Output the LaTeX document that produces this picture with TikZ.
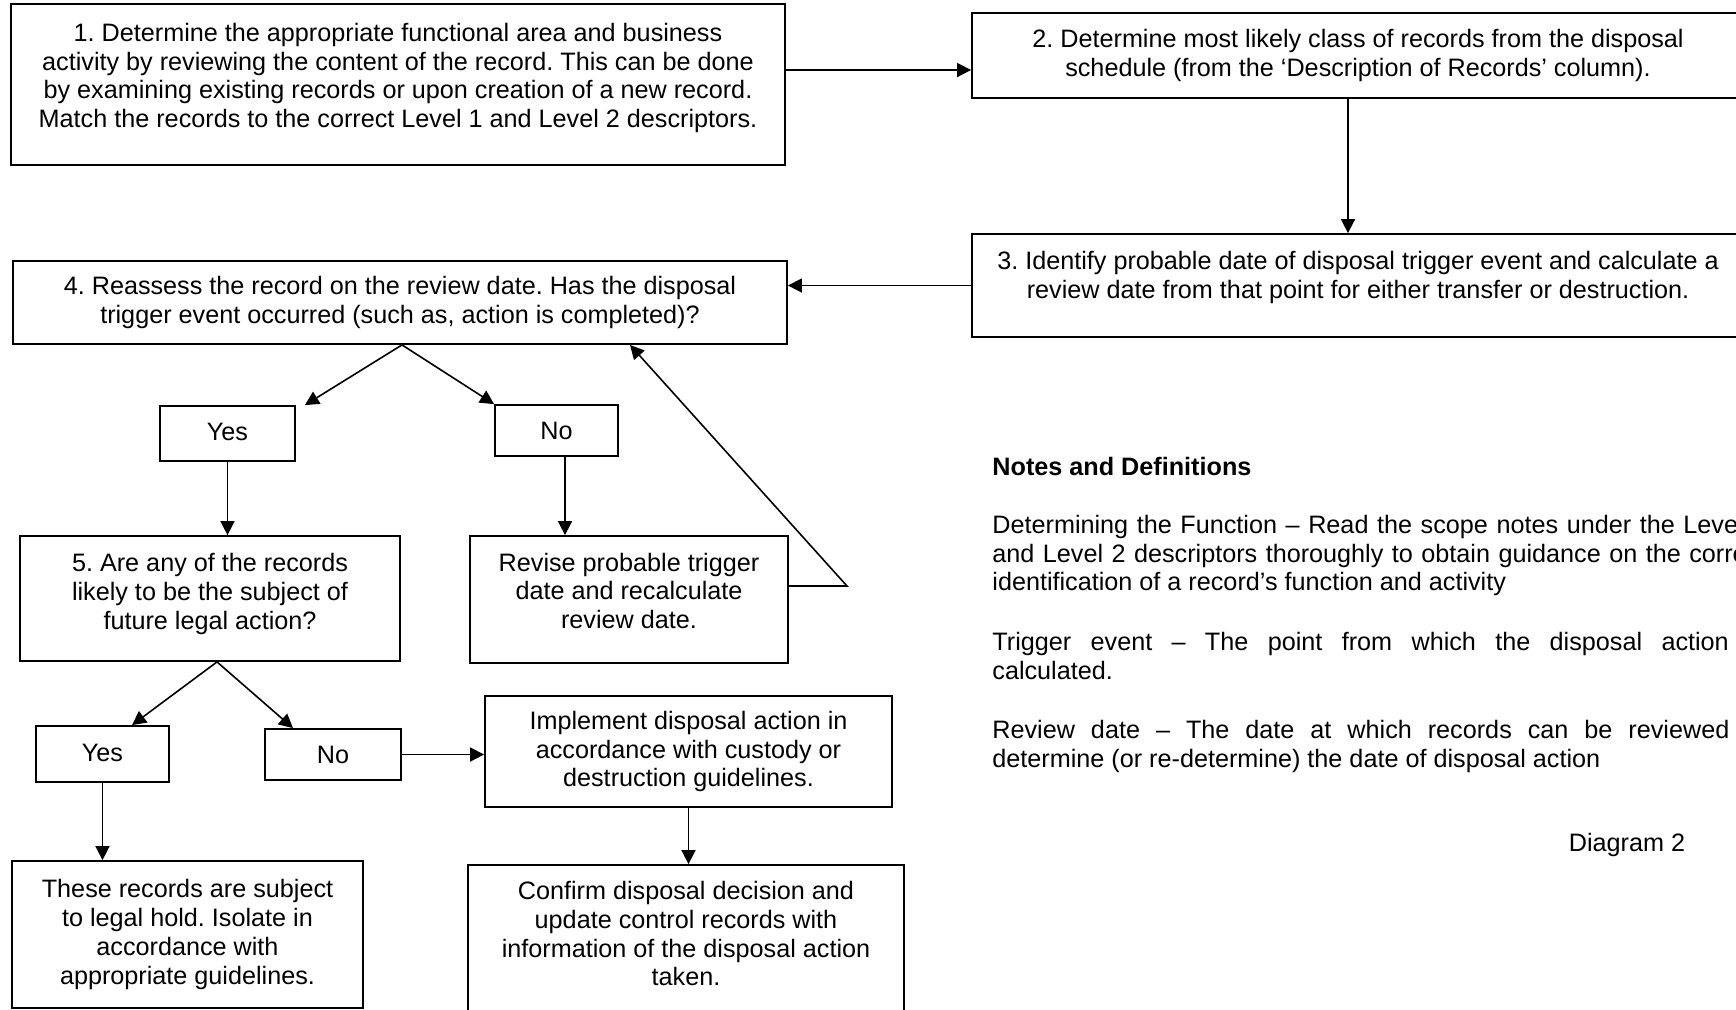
\documentclass[tikz,border=0pt]{standalone}
\usepackage{fontspec}
\setmainfont{Liberation Sans}
\usetikzlibrary{arrows.meta,positioning,calc}
\setlength{\parindent}{0pt}
\frenchspacing

\begin{document}
\begin{tikzpicture}[x=0.5pt,y=-0.5pt,
  font=\fontsize{12.6}{14.35}\selectfont,
  box/.style={draw,line width=0.9pt,inner sep=0pt},
  txt/.style={align=center,inner sep=0pt},
  arr/.style={line width=0.8pt,-{Triangle[length=7pt,width=7pt]}}]
  \useasboundingbox (0,0) rectangle (1736,1009);
  \clip (0,0) rectangle (1736,1009);
  \fill[white] (0,0) rectangle (1736,1009);
  % steps 1 to 4
  \node[box,minimum width=387pt,minimum height=80.5pt,
    label={[txt,yshift=3.3pt]center:{1. Determine the appropriate functional area and business\\activity by reviewing the content of the record. This can be done\\by examining existing records or upon creation of a new record.\\Match the records to the correct Level 1 and Level 2 descriptors.}}]
    (s1) at (398,84.5) {};
  \node[box,minimum width=386pt,minimum height=42.5pt,
    label={[txt]center:{2. Determine most likely class of records from the disposal\\schedule (from the ‘Description of Records’ column).}}]
    (s2) at (1358,55.5) {};
  \node[box,minimum width=386pt,minimum height=51.5pt,
    label={[txt,yshift=3.9pt]center:{3. Identify probable date of disposal trigger event and calculate a\\review date from that point for either transfer or destruction.}}]
    (s3) at (1358,285.5) {};
  \node[box,minimum width=387pt,minimum height=41.5pt,
    label={[txt]center:{4. Reassess the record on the review date. Has the disposal\\trigger event occurred (such as, action is completed)?}}]
    (s4) at (400,302.5) {};
  % first decision
  \node[box,minimum width=67.5pt,minimum height=27.5pt,
    label={[txt,yshift=0.6pt]center:Yes}] (yes1) at (227.5,433.5) {};
  \node[box,minimum width=61.5pt,minimum height=25.5pt,
    label={[txt]center:No}] (no1) at (556.5,430.5) {};
  \node[box,minimum width=190pt,minimum height=62.5pt,
    label={[txt,yshift=2.2pt]center:{5. Are any of the records\\likely to be the subject of\\future legal action?}}]
    (s5) at (210,598.5) {};
  \node[box,minimum width=159pt,minimum height=63.5pt,
    label={[txt,yshift=4.4pt]center:{Revise probable trigger\\date and recalculate\\review date.}}]
    (revise) at (629,599.5) {};
  % second decision
  \node[box,minimum width=66.5pt,minimum height=28pt,
    label={[txt,yshift=0.6pt]center:Yes}] (yes2) at (102.5,754) {};
  \node[box,minimum width=68pt,minimum height=25.5pt,
    label={[txt]center:No}] (no2) at (333,754.5) {};
  \node[box,minimum width=203.5pt,minimum height=55.5pt,
    label={[txt]center:{Implement disposal action in\\accordance with custody or\\destruction guidelines.}}]
    (impl) at (688.5,751.5) {};
  \node[box,minimum width=175.5pt,minimum height=73.5pt,
    label={[txt]center:{These records are subject\\to legal hold. Isolate in\\accordance with\\appropriate guidelines.}}]
    (hold) at (187.5,934.5) {};
  \node[box,minimum width=218pt,minimum height=74.5pt,
    label={[txt,yshift=2.8pt]center:{Confirm disposal decision and\\update control records with\\information of the disposal action\\taken.}}]
    (confirm) at (686,939.5) {};
  % connectors
  \draw[arr] (s1.east |- 0,70) -- (s2.west |- 0,70);
  \draw[arr] (s2.south -| 1348,0) -- (s3.north -| 1348,0);
  \draw[arr] (s3.west) -- (s4.east |- s3.west);
  \draw[arr] (s4.south -| 402,0) -- ([xshift=4.5pt]yes1.north east);
  \draw[arr] (s4.south -| 402,0) -- (no1.north west);
  \draw[arr] (yes1.south) -- (yes1.south |- s5.north);
  \draw[arr] (no1.south -| 565,0) -- (revise.north -| 565,0);
  \draw[arr] (revise.east |- 0,586) -- (847,586) -- (s4.south -| 630,0);
  \draw[arr] (s5.south -| 217,0) -- (yes2.north -| 132,0);
  \draw[arr] (s5.south -| 217,0) -- (no2.north -| 293,0);
  \draw[arr] (no2.east) -- (no2.east -| impl.west);
  \draw[arr] (impl.south) -- (impl.south |- confirm.north);
  \draw[arr] (yes2.south) -- (yes2.south |- hold.north);
  % notes
  \node[anchor=north west,text width=387pt,align=justify,inner sep=0pt] (notes) at (992,457)
    {{\bfseries Notes and Definitions}\par\vspace{14.5pt}
     Determining the Function – Read the scope notes under the Level 1\linebreak
     and Level 2 descriptors thoroughly to obtain guidance on the correct\linebreak
     identification of a record’s function and activity\par\vspace{15.5pt}
     Trigger event – The point from which the disposal action is\linebreak
     calculated.\par\vspace{15.5pt}
     Review date – The date at which records can be reviewed to\linebreak
     determine (or re-determine) the date of disposal action};
  \node (diag) at (1627,845) {Diagram 2};
\end{tikzpicture}
\end{document}
